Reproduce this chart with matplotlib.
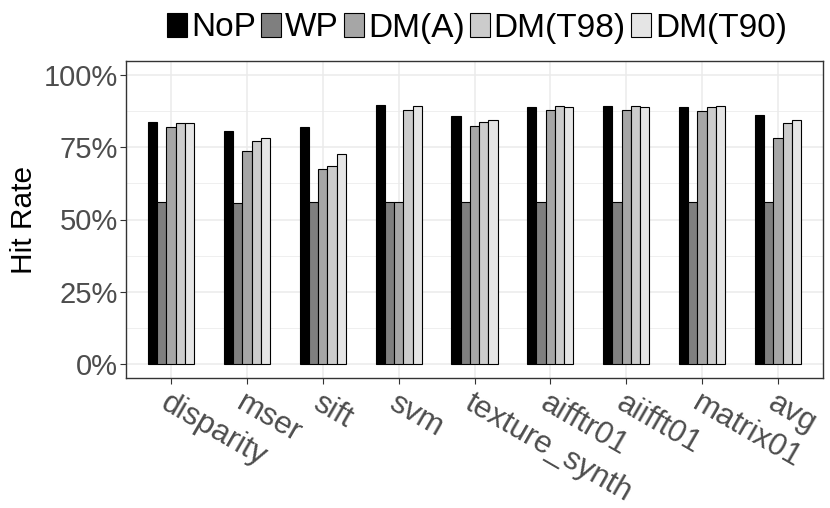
import numpy as np
import matplotlib
matplotlib.use('Agg')
import matplotlib.pyplot as plt
from matplotlib.ticker import FuncFormatter, MultipleLocator

plt.rcParams['font.family'] = ['Liberation Sans', 'DejaVu Sans']

benchmarks = ['disparity', 'mser', 'sift', 'svm', 'texture_synth',
              'aifftr01', 'aiifft01', 'matrix01', 'avg']
series = ['NoP', 'WP', 'DM(A)', 'DM(T98)', 'DM(T90)']
colors = ['#000000', '#7f7f7f', '#a6a6a6', '#cccccc', '#e5e5e5']

nop = [0.836, 0.806, 0.821, 0.895, 0.858, 0.890, 0.894, 0.890, 0.862]
wp = [0.559, 0.558, 0.561, 0.561, 0.561, 0.561, 0.561, 0.561, 0.561]
dm_a = [0.820, 0.738, 0.676, 0.561, 0.822, 0.879, 0.880, 0.876, 0.781]
dm_t98 = [0.833, 0.770, 0.685, 0.880, 0.837, 0.891, 0.891, 0.889, 0.834]
dm_t90 = [0.833, 0.783, 0.728, 0.894, 0.843, 0.889, 0.889, 0.891, 0.843]
values = [nop, wp, dm_a, dm_t98, dm_t90]

fig = plt.figure(figsize=(8.3, 5.08), dpi=100)
ax = fig.add_axes([126 / 830, 1 - 378 / 508, 697 / 830, 317 / 508])

x = np.arange(len(benchmarks))
bw = 0.122
for i, (name, vals) in enumerate(zip(series, values)):
    ax.bar(x + (i - 2) * bw, vals, width=bw, color=colors[i],
           edgecolor='black', linewidth=0.8, label=name, zorder=3)

ax.set_xlim(-0.594, len(benchmarks) - 1 + 0.594)
ax.set_ylim(-0.048, 1.048)
ax.yaxis.set_major_locator(MultipleLocator(0.25))
ax.yaxis.set_minor_locator(MultipleLocator(0.125))
ax.yaxis.set_major_formatter(FuncFormatter(lambda v, p: f'{v * 100:.0f}%'))
ax.set_xticks(x)
ax.set_xticklabels(benchmarks, rotation=-30, ha='left', va='top',
                   rotation_mode='anchor', fontsize=22.5)
ax.grid(which='major', color='#ebebeb', linewidth=1.1, zorder=0)
ax.grid(which='minor', axis='y', color='#ebebeb', linewidth=0.55, zorder=0)
ax.set_axisbelow(True)
for s in ax.spines.values():
    s.set_color('#333333')
    s.set_linewidth(1.0)
ax.tick_params(which='major', length=4.5, width=0.8, color='#333333',
               labelcolor='#4d4d4d', pad=1.5)
ax.tick_params(axis='y', labelsize=21)
ax.tick_params(which='minor', length=0)
ax.tick_params(axis='x', pad=2.5)
ax.set_ylabel('Hit Rate', fontsize=21.5, color='black', labelpad=4)

fig.legend(loc='center', bbox_to_anchor=(477 / 830, 1 - 28 / 508), ncol=5,
           frameon=False, fontsize=24, handlelength=0.6, handleheight=0.75,
           handletextpad=0.12, columnspacing=0.15, borderpad=0)

fig.savefig('out.png', dpi=100)
